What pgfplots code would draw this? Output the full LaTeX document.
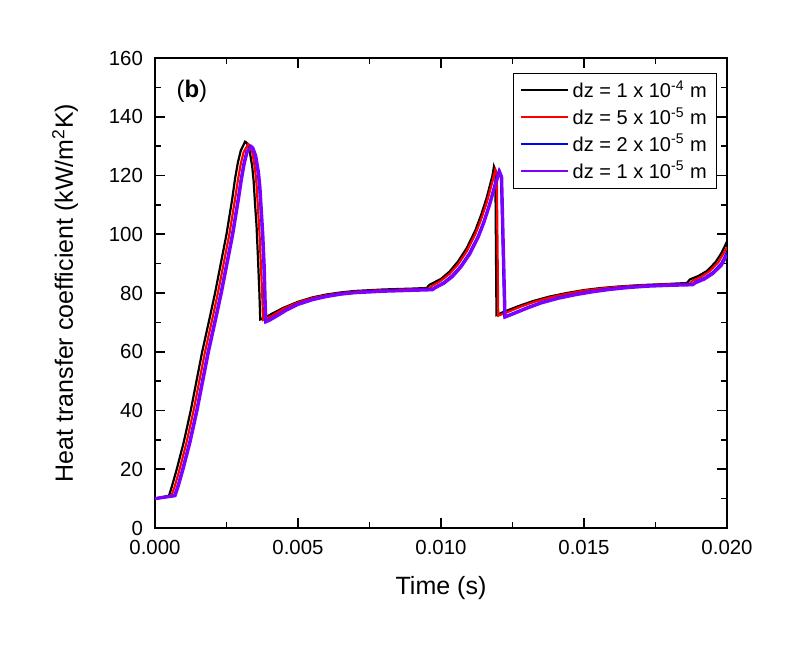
\documentclass[border=0pt]{standalone}
\usepackage{pgfplots}
\pgfplotsset{compat=1.18}
\usepackage{fontspec}
\setmainfont{Liberation Sans}
\usetikzlibrary{calc}
\definecolor{violetline}{RGB}{128,0,255}
\begin{document}
\begin{tikzpicture}
\begin{axis}[
  scale only axis,
  width=286pt, height=235pt,
  xmin=0, xmax=0.02, ymin=0, ymax=160,
  xtick={0,0.005,0.01,0.015,0.02},
  ytick={0,20,...,160},
  minor x tick num=1, minor y tick num=1,
  tick align=inside,
  major tick length=5pt, minor tick length=3pt,
  tick style={black, line width=0.8pt},
  axis line style={line width=1pt},
  scaled x ticks=false,
  xticklabel style={yshift=-2.5pt, /pgf/number format/fixed, /pgf/number format/fixed zerofill, /pgf/number format/precision=3},
  /pgf/number format/assume math mode=true,
  ticklabel style={font=\fontsize{10.2}{12}\selectfont},
  yticklabel style={xshift=-2.5pt},
  xlabel={Time (s)},
  ylabel={Heat transfer coefficient (kW/m\textsuperscript{2}K)},
  xlabel style={font=\fontsize{12.5}{14}\selectfont, yshift=-4pt},
  ylabel style={font=\fontsize{12.5}{14}\selectfont, yshift=8.5pt},
  legend style={at={(rel axis cs:0.983,0.968)}, anchor=north east,
    font=\fontsize{10}{12}\selectfont, draw=black, line width=0.5pt,
    row sep=-0.5pt, inner xsep=3pt, inner ysep=1.5pt, cells={anchor=west}},
  legend cell align=left,
  legend image code/.code={\draw[#1, line width=1pt] (0cm,0cm) -- (23.5pt,0cm);},
]
% dz = 1e-4 m
\addplot[black, line width=1.1pt] coordinates {
(0,10) (0.00049,11) (0.0006,14.5) (0.00076,20) (0.001,29) (0.00125,40) (0.0015,52.5)
(0.00165,60) (0.0019,71) (0.0021,80) (0.0023,90) (0.0025,100) (0.0027,112) (0.0028,119)
(0.0029,124.5) (0.003,128.5) (0.00315,131.5) (0.0032,131.2) (0.0033,129) (0.0034,123)
(0.00345,118) (0.0035,110) (0.00355,103) (0.0036,92) (0.00365,80) (0.00368,71)
(0.0038,71.3) (0.0041,73) (0.0045,75) (0.005,77) (0.0055,78.5) (0.006,79.5) (0.0065,80.2)
(0.007,80.7) (0.008,81.2) (0.009,81.5) (0.0095,81.7) (0.0096,82.8) (0.01,84.8)
(0.0103,87.3) (0.0106,90.8) (0.0109,95.3) (0.0112,101.3) (0.0114,106.5) (0.0116,112.5)
(0.0118,120) (0.01185,123) (0.0119,121.5) (0.01194,72.5) (0.0122,73.6) (0.0127,75.5)
(0.0132,77.2) (0.0138,78.8) (0.0144,80) (0.015,81) (0.0156,81.7) (0.0162,82.2)
(0.017,82.7) (0.018,83.1) (0.0186,83.4) (0.0187,84.6) (0.019,85.8) (0.0193,87.5)
(0.0196,90.5) (0.0198,93.5) (0.02,97.5)
};
\addlegendentry{dz = 1 x 10\textsuperscript{-4} m}
% dz = 5e-5 m
\addplot[red, line width=1.1pt] coordinates {
(0,10) (0.00058,11) (0.0007,14.5) (0.00086,20) (0.0011,29) (0.00135,40) (0.0016,52.5)
(0.00175,60) (0.002,71) (0.0022,80) (0.0024,90) (0.0026,100) (0.0028,112) (0.0029,118.5)
(0.003,124) (0.0031,128) (0.00326,130.7) (0.0033,130.4) (0.0034,128) (0.0035,122)
(0.00355,117) (0.0036,109) (0.00365,101) (0.0037,90) (0.00375,79) (0.00378,70.8)
(0.0039,71.2) (0.0042,72.9) (0.0045,74.7) (0.005,76.8) (0.0055,78.3) (0.006,79.3)
(0.0065,80) (0.007,80.5) (0.008,81) (0.009,81.3) (0.0096,81.5) (0.0097,82.5) (0.01,84.2)
(0.0103,86.5) (0.0106,89.8) (0.0109,94.2) (0.0112,100) (0.0114,105) (0.0116,110.8)
(0.0118,118) (0.0119,122) (0.01195,121) (0.012,72.3) (0.0123,73.4) (0.0128,75.4)
(0.0133,77.1) (0.0139,78.7) (0.0145,79.9) (0.015,80.8) (0.0156,81.5) (0.0162,82.1)
(0.017,82.6) (0.018,83) (0.0187,83.2) (0.0188,84.2) (0.0191,85.5) (0.0194,87.5)
(0.0197,90.5) (0.02,95.5)
};
\addlegendentry{dz = 5 x 10\textsuperscript{-5} m}
% dz = 2e-5 m
\addplot[blue, line width=1.25pt] coordinates {
(0,10) (0.00068,11) (0.0008,14.5) (0.00096,20) (0.0012,29) (0.00145,40) (0.0017,52.5)
(0.00185,60) (0.0021,71) (0.0023,80) (0.0025,90) (0.0027,100) (0.0029,112) (0.003,118.5)
(0.0031,124) (0.0032,128) (0.00335,130) (0.0034,129.6) (0.0035,127) (0.0036,121)
(0.00365,116) (0.0037,108) (0.00375,100) (0.0038,89) (0.00383,78) (0.00386,70.3)
(0.004,70.9) (0.0043,72.6) (0.0046,74.4) (0.005,76.3) (0.0055,77.9) (0.006,79)
(0.0065,79.8) (0.007,80.3) (0.008,80.8) (0.009,81.1) (0.0097,81.3) (0.0098,82)
(0.0101,83.6) (0.0104,86) (0.0107,89.3) (0.011,93.7) (0.0113,99.5) (0.0115,104.5)
(0.0117,110.5) (0.0119,117.5) (0.01203,121.6) (0.0121,120) (0.01222,71.9) (0.0125,73)
(0.013,75) (0.0135,76.8) (0.0141,78.4) (0.0147,79.6) (0.0153,80.6) (0.0159,81.4)
(0.0165,82) (0.0172,82.5) (0.018,82.8) (0.0188,83) (0.0189,83.8) (0.0192,85) (0.0195,87)
(0.0198,90) (0.02,93.8)
};
\addlegendentry{dz = 2 x 10\textsuperscript{-5} m}
% dz = 1e-5 m
\addplot[violetline, line width=1.6pt] coordinates {
(0,10) (0.0007,11) (0.00082,14.5) (0.00098,20) (0.00122,29) (0.00147,40) (0.00172,52.5)
(0.00187,60) (0.00212,71) (0.00232,80) (0.00252,90) (0.00272,100) (0.00292,112)
(0.00302,118.5) (0.00312,124) (0.00322,128) (0.00337,129.8) (0.00342,129.4)
(0.00352,126.8) (0.00362,121) (0.00367,116) (0.00372,108) (0.00377,100) (0.00382,89)
(0.00385,78) (0.00388,70.2) (0.004,70.7) (0.0043,72.4) (0.0046,74.2) (0.005,76.1)
(0.0055,77.7) (0.006,78.8) (0.0065,79.6) (0.007,80.1) (0.008,80.6) (0.009,80.9)
(0.0097,81.1) (0.0098,81.8) (0.0101,83.3) (0.0104,85.6) (0.0107,88.9) (0.011,93.2)
(0.0113,99) (0.0115,104) (0.0117,110) (0.0119,117) (0.01205,121.2) (0.01212,119.5)
(0.01224,71.8) (0.0125,72.8) (0.013,74.8) (0.0135,76.6) (0.0141,78.2) (0.0147,79.4)
(0.0153,80.4) (0.0159,81.2) (0.0165,81.8) (0.0172,82.3) (0.018,82.6) (0.0188,82.8)
(0.0189,83.5) (0.0192,84.7) (0.0195,86.6) (0.0198,89.4) (0.02,93)
};
\addlegendentry{dz = 1 x 10\textsuperscript{-5} m}
\node[anchor=west, font=\fontsize{12}{14}\selectfont, inner sep=0pt] at (rel axis cs:0.037,0.93) {(\textbf{b})};
\coordinate (ll) at (rel axis cs:0,0);
\coordinate (ur) at (rel axis cs:1,1);
\end{axis}
\pgfresetboundingbox
\useasboundingbox ($(ll)+(-77.5pt,-58pt)$) rectangle ($(ur)+(36.5pt,29pt)$);
\end{tikzpicture}
\end{document}
